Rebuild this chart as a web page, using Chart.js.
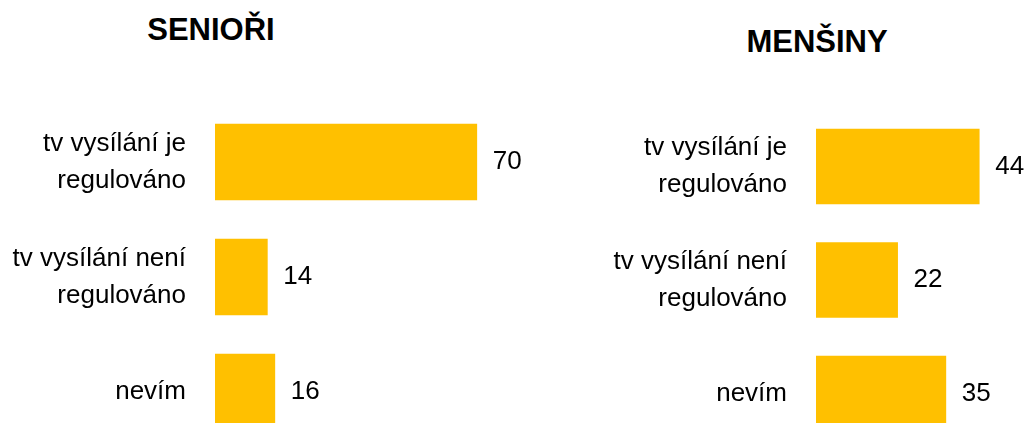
<!DOCTYPE html>
<html>
<head>
<meta charset="utf-8">
<script src="https://cdn.jsdelivr.net/npm/chart.js@4"></script>
<style>
  html, body { margin: 0; padding: 0; background: #fff; overflow: hidden; }
  body { width: 1027px; height: 423px; position: relative; font-family: "Liberation Sans", Arial, sans-serif; }
  .title { position: absolute; width: 400px; text-align: center; font-weight: bold; font-size: 31px; line-height: 31px; color: #000; }
  .wrap { position: absolute; top: 0; height: 460px; }
</style>
</head>
<body>
<div class="title" style="left:11px; top:14px;">SENIOŘI</div>
<div class="title" style="left:617px; top:26px;">MENŠINY</div>
<div class="wrap" style="left:0; width:560px;"><canvas id="left"></canvas></div>
<div class="wrap" style="left:560px; width:467px;"><canvas id="right"></canvas></div>
<script>
const categories = [['tv vysílání je', 'regulováno'], ['tv vysílání není', 'regulováno'], 'nevím'];
const senioriValues = [70, 14, 16];
const mensinyValues = [44, 22, 35];

const barColor = '#FFC000';
const fontFamily = '"Liberation Sans", Arial, sans-serif';

//draws the value next to the end of each bar
const valueLabels = {
  id: 'valueLabels',
  afterDatasetsDraw(chart) {
    const ctx = chart.ctx;
    const meta = chart.getDatasetMeta(0);
    ctx.save();
    ctx.font = '26px ' + fontFamily;
    ctx.fillStyle = '#000';
    ctx.textAlign = 'left';
    ctx.textBaseline = 'middle';
    meta.data.forEach((bar, i) => {
      ctx.fillText(String(chart.data.datasets[0].data[i]), bar.x + 16, bar.y);
    });
    ctx.restore();
  }
};

function makeChart(id, values, opts) {
  return new Chart(document.getElementById(id), {
    type: 'bar',
    data: {
      labels: categories,
      datasets: [{ data: values, backgroundColor: barColor, borderWidth: 0, barThickness: opts.barThickness }]
    },
    options: {
      indexAxis: 'y',
      responsive: false,
      animation: false,
      layout: { padding: { left: 0, top: opts.top, right: opts.right, bottom: opts.bottom } },
      plugins: { legend: { display: false }, tooltip: { enabled: false } },
      scales: {
        x: { display: false, min: 0, max: opts.max },
        y: {
          grid: { display: false, drawTicks: false },
          border: { display: false },
          ticks: { padding: 29, color: '#000', font: { family: fontFamily, size: 26, lineHeight: 1.41 } },
          afterFit(scale) {
            scale.width = opts.axisWidth;
            //labels sit mid-category, so they need no extra room above or below
            scale.paddingTop = 0;
            scale.paddingBottom = 0;
          }
        }
      }
    },
    plugins: [valueLabels]
  });
}

function sizeCanvas(id, w, h) {
  const c = document.getElementById(id);
  c.width = w; c.height = h;
  c.style.width = w + 'px'; c.style.height = h + 'px';
}

sizeCanvas('left', 560, 460);
sizeCanvas('right', 467, 460);

makeChart('left', senioriValues, { max: 80, axisWidth: 215, top: 104.5, right: 45.8, bottom: 10.5, barThickness: 76 });
makeChart('right', mensinyValues, { max: 50, axisWidth: 256, top: 109.75, right: 25.5, bottom: 9.75, barThickness: 75 });
</script>
</body>
</html>
